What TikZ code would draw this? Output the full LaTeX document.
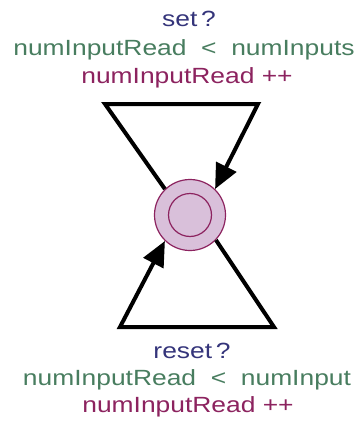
\documentclass[tikz,border=0pt]{standalone}
\usepackage{fontspec}
\setmainfont{Liberation Sans}
\newfontfamily\lblfont[FakeStretch=1.2]{Liberation Sans}
\usetikzlibrary{arrows.meta}
\definecolor{syncblue}{RGB}{52,52,122}
\definecolor{guardgreen}{RGB}{72,125,95}
\definecolor{updmagenta}{RGB}{140,35,95}
\definecolor{locfill}{RGB}{217,192,218}
\tikzset{location/.style={circle,draw=updmagenta,fill=locfill,line width=1.2pt,minimum size=71pt,inner sep=0pt}}
\tikzset{committed/.style={circle,draw=updmagenta,line width=1.2pt,minimum size=43pt,inner sep=0pt}}
\tikzset{lbl/.style={font=\lblfont\fontsize{22}{26}\selectfont,anchor=base,inner sep=0pt}}
\tikzset{sync/.style={lbl,text=syncblue}}
\tikzset{guard/.style={lbl,text=guardgreen}}
\tikzset{update/.style={lbl,text=updmagenta}}
\tikzset{transition/.style={line width=4pt,line join=miter,-{Triangle[length=25pt,width=22pt]}}}

\begin{document}
\begin{tikzpicture}[x=1pt,y=-1pt]
\useasboundingbox (0,0) rectangle (360,423);
\node[location](idle) at (190,215) {};
\node[committed](idleC) at (idle) {};
\coordinate (setL) at (105,104);
\coordinate (setR) at (258,104);
\coordinate (resetL) at (120,327);
\coordinate (resetR) at (274,327);
\draw[transition] (idle.134) -- (setL) -- (setR) -- (idle.46);
\draw[transition] (idle.-44) -- (resetR) -- (resetL) -- (idle.-134);
\node[sync](setS) at (189,27) {set\,?};
\node[guard](setG) at (184,55) {numInputRead \ < \ numInputs};
\node[update](setU) at (187,83) {numInputRead ++};
\node[sync](resetS) at (192,358) {reset\,?};
\node[guard](resetG) at (187,385) {numInputRead \ < \ numInput};
\node[update](resetU) at (188,412) {numInputRead ++};
\end{tikzpicture}
\end{document}
